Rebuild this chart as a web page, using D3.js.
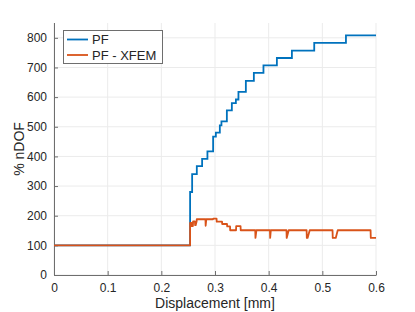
<!DOCTYPE html>
<html>
<head>
<meta charset="utf-8">
<script src="https://cdn.jsdelivr.net/npm/d3@7/dist/d3.min.js"></script>
<style>
  body { margin: 0; background: #fff; }
  svg { font-family: "Liberation Sans", Arial, Helvetica, sans-serif; }
</style>
</head>
<body>
<svg id="chart" width="415" height="312"></svg>
<script>
// PF: step values (displacement in mm, % nDOF)
const pfX = [0, 0.2536, 0.2574, 0.2661, 0.2760, 0.2859, 0.2965, 0.3016, 0.3090, 0.3120, 0.3221,
  0.3314, 0.3389, 0.3437, 0.3575, 0.3724, 0.3903, 0.4153, 0.4433, 0.4849, 0.5440, 0.6];
const pfY = [100, 280, 340, 367, 392, 417, 467, 480, 505, 518, 555,
  580, 592, 618, 655, 682, 707, 732, 757, 783, 808, 808];

// PF - XFEM: sampled points
const xfemX = [0, 0.2536, 0.2536, 0.2562, 0.2566, 0.2588, 0.2592, 0.2626, 0.2630, 0.2640, 0.2658, 0.2660,
  0.2822, 0.2826, 0.2838, 0.2963, 0.2966, 0.3029, 0.3032, 0.3131, 0.3134, 0.3224, 0.3227,
  0.3280, 0.3283, 0.3392, 0.3395, 0.3476, 0.3479,
  0.3750, 0.3754, 0.3772, 0.4024, 0.4028, 0.4040, 0.4332, 0.4336, 0.4373,
  0.4707, 0.4711, 0.4725, 0.4765, 0.5190, 0.5194, 0.5250, 0.5287, 0.5899, 0.5903, 0.6];
const xfemY = [100, 100, 176, 176, 165, 165, 181, 181, 168, 168, 181, 188,
  188, 166, 188, 188, 190, 190, 180, 180, 172, 172, 164,
  164, 151, 151, 165, 165, 151,
  151, 125, 151, 151, 125, 151, 151, 125, 151,
  151, 125, 125, 151, 151, 125, 125, 151, 151, 125, 125];

const xTicks = [0, 0.1, 0.2, 0.3, 0.4, 0.5, 0.6];
const yTicks = [0, 100, 200, 300, 400, 500, 600, 700, 800];
const seriesNames = ['PF', 'PF - XFEM'];
const colors = ['#0072BD', '#D95319'];

const svg = d3.select('#chart');
const margin = {left: 54, right: 39, top: 23, bottom: 37};
const width = 415 - margin.left - margin.right;
const height = 312 - margin.top - margin.bottom;

const x = d3.scaleLinear().domain([0, 0.6]).range([margin.left, margin.left + width]);
const y = d3.scaleLinear().domain([0, 850]).range([margin.top + height, margin.top]);

// grid
svg.append('g').selectAll('line.vgrid').data(xTicks).enter()
  .append('line')
  .attr('x1', d => x(d)).attr('x2', d => x(d))
  .attr('y1', margin.top).attr('y2', margin.top + height)
  .attr('stroke', '#ebebeb').attr('stroke-width', 1);
svg.append('g').selectAll('line.hgrid').data(yTicks).enter()
  .append('line')
  .attr('x1', margin.left).attr('x2', margin.left + width)
  .attr('y1', d => y(d)).attr('y2', d => y(d))
  .attr('stroke', '#ebebeb').attr('stroke-width', 1);

// axes
let xAxis = d3.axisBottom(x).tickValues(xTicks).tickFormat(d3.format('')).tickSizeInner(-4).tickSizeOuter(0).tickPadding(8);
let yAxis = d3.axisLeft(y).tickValues(yTicks).tickSizeInner(-4).tickSizeOuter(0).tickPadding(7);

let gx = svg.append('g')
  .attr('transform', 'translate(0,' + (margin.top + height) + ')')
  .call(xAxis);
let gy = svg.append('g')
  .attr('transform', 'translate(' + margin.left + ',0)')
  .call(yAxis);

[gx, gy].forEach(g => {
  g.select('.domain').attr('stroke', '#6e6e6e');
  g.selectAll('.tick line').attr('stroke', '#6e6e6e');
  g.selectAll('.tick text').attr('fill', '#262626').style('font-size', '12px')
    .style('font-family', '"Liberation Sans", Arial, sans-serif');
});
// y domain should span whole height
gy.select('.domain').attr('d', 'M0.5,' + (margin.top + height) + 'V' + margin.top);

// lines
const pfLine = d3.line()
  .x(d => x(d[0])).y(d => y(d[1]))
  .curve(d3.curveStepAfter);
const xfemLine = d3.line()
  .x(d => x(d[0])).y(d => y(d[1]));

svg.append('path')
  .datum(pfX.map((v, i) => [v, pfY[i]]))
  .attr('d', pfLine)
  .attr('fill', 'none')
  .attr('stroke', colors[0])
  .attr('stroke-width', 1.8);

svg.append('path')
  .datum(xfemX.map((v, i) => [v, xfemY[i]]))
  .attr('d', xfemLine)
  .attr('fill', 'none')
  .attr('stroke', colors[1])
  .attr('stroke-width', 1.8)
  .attr('stroke-linejoin', 'round');

// axis labels
svg.append('text')
  .attr('x', margin.left + width / 2)
  .attr('y', 308)
  .attr('text-anchor', 'middle')
  .attr('fill', '#262626')
  .style('font-size', '14px')
  .text('Displacement [mm]');

svg.append('text')
  .attr('transform', 'translate(24,' + (margin.top + height / 2) + ') rotate(-90)')
  .attr('text-anchor', 'middle')
  .attr('fill', '#262626')
  .style('font-size', '14px')
  .text('% nDOF');

// legend
let legend = svg.append('g');
legend.append('rect')
  .attr('x', 63.5).attr('y', 30.5)
  .attr('width', 99).attr('height', 33)
  .attr('fill', '#fff')
  .attr('stroke', '#6e6e6e')
  .attr('stroke-width', 1);
seriesNames.forEach((name, i) => {
  let ly = 39.5 + i * 15.5;
  legend.append('line')
    .attr('x1', 67).attr('x2', 88)
    .attr('y1', ly).attr('y2', ly)
    .attr('stroke', colors[i])
    .attr('stroke-width', 1.8);
  legend.append('text')
    .attr('x', 92).attr('y', ly + 4.5)
    .attr('fill', '#262626')
    .style('font-size', '13px')
    .text(name);
});
</script>
</body>
</html>
